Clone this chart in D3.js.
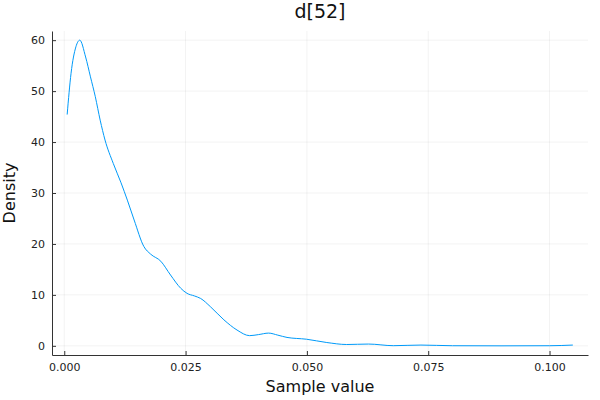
<!DOCTYPE html>
<html>
<head>
<meta charset="utf-8">
<script src="https://cdn.jsdelivr.net/npm/d3@7"></script>
<style>
  body { margin: 0; background: #fff; }
  svg { font-family: "DejaVu Sans", sans-serif; }
</style>
</head>
<body>
<svg id="chart" width="600" height="400"></svg>
<script>
// density estimate
const sampleX = [0.0006, 0.0014, 0.0024, 0.0032, 0.0044, 0.0054, 0.0064, 0.0074, 0.0084, 0.0101,
  0.0117, 0.0130, 0.0144, 0.0164, 0.0178, 0.0199, 0.0219, 0.0240, 0.0253, 0.0268,
  0.0281, 0.0301, 0.0329, 0.0356, 0.0382, 0.0400, 0.0421, 0.0440, 0.0459, 0.0499,
  0.0541, 0.0582, 0.0627, 0.0678, 0.0735, 0.0800, 0.0900, 0.1000, 0.1048];
const density = [45.4, 53.5, 58.7, 60.0, 56.7, 52.8, 48.9, 44.3, 40.4, 35.8,
  32.0, 28.6, 24.7, 19.5, 18.0, 16.6, 13.9, 11.3, 10.3, 9.8,
  9.3, 7.7, 5.1, 3.1, 2.0, 2.2, 2.5, 2.1, 1.65, 1.3,
  0.65, 0.26, 0.35, 0.03, 0.15, 0.02, 0.0, 0.02, 0.15];
const xTicks = [0, 0.025, 0.05, 0.075, 0.1];
const yTicks = [0, 10, 20, 30, 40, 50, 60];

const margin = { top: 31, right: 12, bottom: 45, left: 52 };
const width = 600, height = 400;

const svg = d3.select("#chart");

// Plots.jl style 3% padding on the data extent
const pad = (lo, hi) => { const w = hi - lo; return [lo - 0.03 * w, hi + 0.03 * w]; };

const x = d3.scaleLinear()
  .domain(pad(d3.min(sampleX), d3.max(sampleX)))
  .range([margin.left, width - margin.right]);

const y = d3.scaleLinear()
  .domain(pad(0, d3.max(density)))
  .range([height - margin.bottom, margin.top]);

const data = sampleX.map((v, i) => ({ x: v, y: density[i] }));

// grid
svg.append("g").selectAll("line")
  .data(xTicks).enter().append("line")
  .attr("x1", d => x(d)).attr("x2", d => x(d))
  .attr("y1", margin.top).attr("y2", height - margin.bottom)
  .attr("stroke", "#000").attr("stroke-opacity", 0.1).attr("stroke-width", 0.5);

svg.append("g").selectAll("line")
  .data(yTicks).enter().append("line")
  .attr("x1", margin.left).attr("x2", width - margin.right)
  .attr("y1", d => y(d)).attr("y2", d => y(d))
  .attr("stroke", "#000").attr("stroke-opacity", 0.1).attr("stroke-width", 0.5);

// axes (ticks point inward)
const xAxis = svg.append("g")
  .attr("transform", `translate(0,${height - margin.bottom})`)
  .call(d3.axisBottom(x).tickValues(xTicks).tickFormat(d3.format(".3f")).tickSizeInner(-4).tickSizeOuter(0).tickPadding(8));

const yAxis = svg.append("g")
  .attr("transform", `translate(${margin.left},0)`)
  .call(d3.axisLeft(y).tickValues(yTicks).tickFormat(d3.format("d")).tickSizeInner(-4).tickSizeOuter(0).tickPadding(7));

[xAxis, yAxis].forEach(g => {
  g.select(".domain").attr("stroke", "#333").attr("stroke-width", 1);
  g.selectAll(".tick line").attr("stroke", "#333");
  g.selectAll(".tick text").attr("fill", "#222").attr("font-size", 11)
    .attr("font-family", "DejaVu Sans, sans-serif");
});

// density line
const line = d3.line()
  .x(d => x(d.x))
  .y(d => y(d.y))
  .curve(d3.curveMonotoneX);

svg.append("path")
  .datum(data)
  .attr("d", line)
  .attr("fill", "none")
  .attr("stroke", "#009af9")
  .attr("stroke-width", 1);

// labels
svg.append("text")
  .attr("x", (margin.left + width - margin.right) / 2)
  .attr("y", 18)
  .attr("text-anchor", "middle")
  .attr("font-size", 19)
  .attr("fill", "#111")
  .text("d[52]");

svg.append("text")
  .attr("x", (margin.left + width - margin.right) / 2)
  .attr("y", 392)
  .attr("text-anchor", "middle")
  .attr("font-size", 16)
  .attr("fill", "#111")
  .text("Sample value");

svg.append("text")
  .attr("transform", `translate(15,${(margin.top + height - margin.bottom) / 2}) rotate(-90)`)
  .attr("text-anchor", "middle")
  .attr("font-size", 16)
  .attr("fill", "#111")
  .text("Density");
</script>
</body>
</html>
